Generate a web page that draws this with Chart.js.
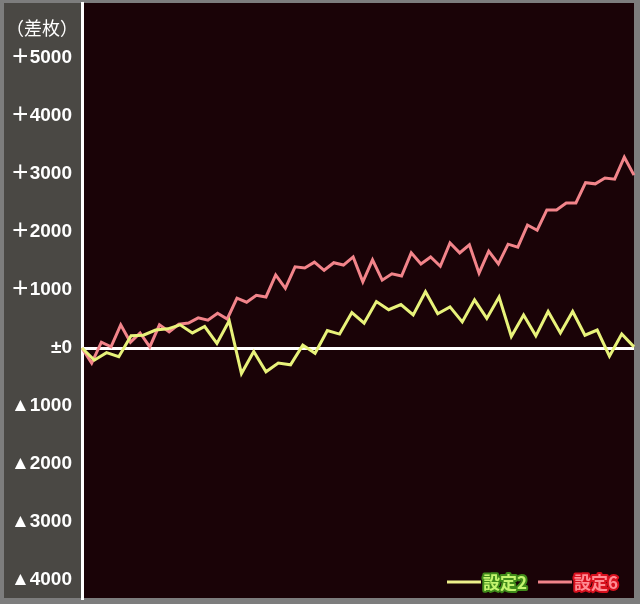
<!DOCTYPE html>
<html>
<head>
<meta charset="utf-8">
<script src="https://cdn.jsdelivr.net/npm/chart.js@4.4.1/dist/chart.umd.min.js"></script>
<style>
  html, body { margin: 0; padding: 0; background: #7d7d7d; }
  canvas { display: block; }
</style>
</head>
<body>
<canvas id="canvas" width="640" height="604"></canvas>
<script>
// 差枚 per sample point
const setting6 = [0, -260, 100, 20, 400, 100, 260, 20, 400, 280, 410, 430, 520, 480, 600, 500,
    860, 790, 910, 880, 1260, 1030, 1400, 1380, 1480, 1340, 1470, 1430, 1570, 1140, 1520, 1170,
    1280, 1240, 1640, 1450, 1570, 1410, 1810, 1640, 1780, 1290, 1670, 1450, 1790, 1740, 2120, 2030,
    2380, 2380, 2500, 2500, 2850, 2830, 2930, 2910, 3290, 2980];
const setting2 = [0, -210, -80, -150, 210, 220, 310, 330, 400, 260, 370, 80, 470, -440, -60, -410,
    -260, -290, 50, -90, 300, 240, 610, 430, 800, 660, 750, 570, 970, 590, 710, 450,
    830, 510, 880, 200, 570, 210, 630, 260, 630, 220, 310, -140, 240, 20];

const tickValues = [5000, 4000, 3000, 2000, 1000, 0, -1000, -2000, -3000, -4000];
const tickLabels = ['＋5000', '＋4000', '＋3000', '＋2000', '＋1000', '±0', '▲1000', '▲2000', '▲3000', '▲4000'];
const axisTitle = '（差枚）';
const legendItems = [
    {text: '設定2', line: '#eef08a', fill: '#c4f46e', stroke: '#3f8a1a'},
    {text: '設定6', line: '#f2848a', fill: '#ff8c94', stroke: '#d8101e'}
];

const labels6 = setting6.map((v, i) => i + 1);
const labels2 = setting2.map((v, i) => i + 1);

const FONT = "'Liberation Sans', 'Noto Sans CJK JP', sans-serif";

const frame = {
    id: 'frame',
    beforeDraw(chart) {
        const ctx = chart.ctx;
        const a = chart.chartArea;
        ctx.save();
        ctx.fillStyle = '#7d7d7d';
        ctx.fillRect(0, 0, chart.width, chart.height);
        ctx.fillStyle = '#4a4844';
        ctx.fillRect(4, a.top, a.left - 4, a.bottom - a.top);
        ctx.fillStyle = '#1a0307';
        ctx.fillRect(a.left, a.top, a.right - a.left, a.bottom - a.top);
        ctx.restore();
    },
    afterDraw(chart) {
        const ctx = chart.ctx;
        const a = chart.chartArea;
        ctx.save();
        ctx.fillStyle = '#ffffff';
        ctx.font = "18px 'Noto Sans CJK JP'";
        ctx.textAlign = 'center';
        ctx.textBaseline = 'middle';
        ctx.fillText(axisTitle, 42, 28);

        // legend, bottom right inside the plot
        ctx.font = "bold 17px 'Noto Sans CJK JP'";
        ctx.textAlign = 'left';
        ctx.lineJoin = 'round';
        const y = a.bottom - 16;
        let x = 447;
        legendItems.forEach(item => {
            ctx.strokeStyle = item.line;
            ctx.lineWidth = 3;
            ctx.beginPath();
            ctx.moveTo(x, y);
            ctx.lineTo(x + 34, y);
            ctx.stroke();
            ctx.lineWidth = 4;
            ctx.strokeStyle = item.stroke;
            ctx.strokeText(item.text, x + 36, y + 1);
            ctx.fillStyle = item.fill;
            ctx.fillText(item.text, x + 36, y + 1);
            x += 91;
        });
        ctx.restore();
    }
};

const myChart = new Chart(document.getElementById('canvas'), {
    type: 'line',
    data: {
        datasets: [
            {
                label: '設定2',
                data: setting2,
                xAxisID: 'x2',
                borderColor: '#e8f27a',
                borderWidth: 3,
                pointRadius: 0,
                tension: 0,
                fill: false
            },
            {
                label: '設定6',
                data: setting6,
                xAxisID: 'x6',
                borderColor: '#f2848a',
                borderWidth: 3,
                pointRadius: 0,
                tension: 0,
                fill: false
            }
        ]
    },
    options: {
        responsive: false,
        animation: false,
        layout: {padding: {top: 3, right: 6, bottom: 6, left: 0}},
        plugins: {legend: {display: false}, tooltip: {enabled: false}},
        scales: {
            x6: {type: 'category', labels: labels6, display: false, offset: false},
            x2: {type: 'category', labels: labels2, display: false, offset: false},
            y: {
                min: -4310,
                max: 5948,
                afterBuildTicks: scale => {
                    scale.ticks = tickValues.map(v => ({value: v}));
                },
                afterFit: scale => {
                    scale.width = 82;
                    scale.paddingTop = 0;
                    scale.paddingBottom = 0;
                },
                ticks: {
                    color: '#ffffff',
                    padding: 10,
                    font: {family: FONT, size: 19, weight: 'bold'},
                    callback: v => tickLabels[tickValues.indexOf(v)]
                },
                grid: {
                    drawTicks: false,
                    lineWidth: 3,
                    color: c => (c.tick && c.tick.value === 0) ? '#ffffff' : 'rgba(0,0,0,0)'
                },
                border: {color: '#ffffff', width: 3}
            }
        }
    },
    plugins: [frame]
});
</script>
</body>
</html>
